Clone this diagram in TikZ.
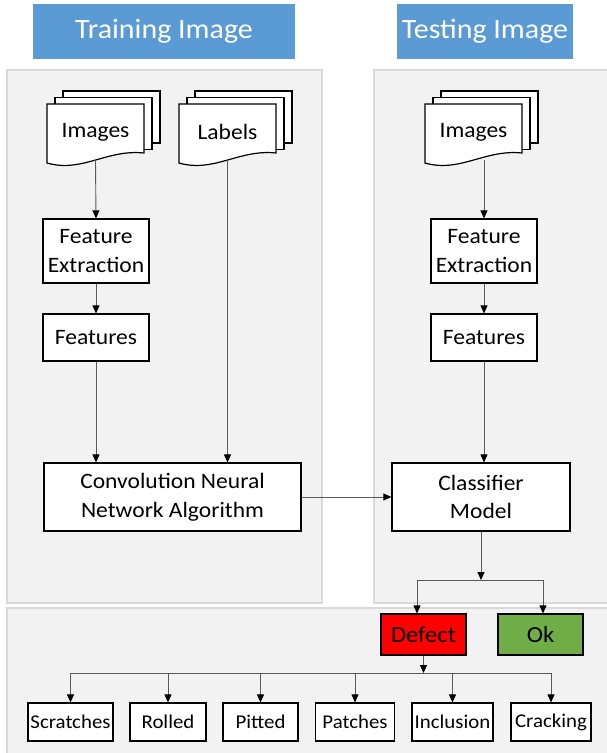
\documentclass[tikz,border=0pt]{standalone}
\usepackage{fontspec}
\setmainfont{Carlito}[FakeStretch=1.07]
\usepackage{tikz}
\usetikzlibrary{arrows.meta}
\definecolor{titleblue}{HTML}{5B9BD5}
\definecolor{panelgray}{HTML}{F2F2F2}
\definecolor{panelline}{HTML}{D9D9D9}
\definecolor{okgreen}{HTML}{70AD47}
\definecolor{defectred}{HTML}{FF0000}
\definecolor{linegray}{HTML}{595959}
\tikzset{
  titlebox/.style={fill=titleblue, text=white, inner sep=0pt, minimum height=55pt,
    font=\fontsize{28}{32}\selectfont},
  panel/.style={fill=panelgray, draw=panelline, line width=1.5pt},
  procbox/.style={draw=black, fill=white, line width=1.2pt, align=center, inner sep=0pt,
    font=\fontsize{22}{28.5}\selectfont},
  classbox/.style={procbox, minimum height=38pt, font=\fontsize{19.5}{22}\selectfont},
  arr/.style={draw=linegray, line width=0.9pt, -{Triangle[length=8pt,width=7pt,color=black]}}
}
\newcommand{\drawdocs}[4]{
  \def \x {#2}
  \def \y {#3}
  % Draw the two pages behind the front one
  \foreach \k in {2,1}
    \draw[line width=1.2pt, fill=white] (\x+8*\k,\y-6.5*\k) rectangle ++(97,52);
  % Draw the front page with its wavy bottom
  \draw[line width=1.2pt, fill=white] (\x,\y) -- (\x+97,\y) -- (\x+97,\y+49)
    .. controls (\x+60,\y+45) and (\x+35,\y+69) .. (\x,\y+59) -- cycle;
  % Label it
  \node[font=\fontsize{22}{26}\selectfont, inner sep=0pt, minimum width=97pt,
    minimum height=56pt] (#1) at (\x+48.5,\y+28) {#4};
}
\begin{document}
\begin{tikzpicture}[x=1pt, y=-1pt]
    \useasboundingbox (0,0) rectangle (607,753);
    % panels
    \draw[panel] (7,70) rectangle (322,603);
    \draw[panel] (374,70) rectangle (612,603);
    \draw[panel] (7,608) rectangle (612,760);
    \node[titlebox, minimum width=262pt] (trainT) at (164,31.5) {Training Image};
    \node[titlebox, minimum width=176pt] (testT) at (485,31.5) {Testing Image};
   %\drawdocs{name}{  x}{  y}{text}
    \drawdocs{imgL}{47}{104}{Images}
    \drawdocs{lab}{179}{104}{Labels}
    \drawdocs{imgR}{425}{104}{Images}
    % training side
    \node[procbox, minimum width=106pt, minimum height=64pt] (feL) at (96,251) {Feature\\Extraction};
    \node[procbox, minimum width=106pt, minimum height=47pt] (ftL) at (96,337.5) {Features};
    \node[procbox, minimum width=257pt, minimum height=68pt] (cnn) at (172.5,497) {Convolution Neural\\Network Algorithm};
    % testing side
    \node[procbox, minimum width=106pt, minimum height=64pt] (feR) at (484,251) {Feature\\Extraction};
    \node[procbox, minimum width=106pt, minimum height=47pt] (ftR) at (484,337.5) {Features};
    \node[procbox, minimum width=178pt, minimum height=68pt] (cls) at (481,497) {Classifier\\Model};
    % result
    \node[procbox, fill=defectred, minimum width=85pt, minimum height=41pt,
      font=\fontsize{23}{26}\selectfont] (defect) at (423.5,634.5) {Defect};
    \node[procbox, fill=okgreen, minimum width=85pt, minimum height=41pt,
      font=\fontsize{23}{26}\selectfont] (ok) at (540.5,634.5) {Ok};
    \foreach \name/\cx/\w/\txt in {scr/70.5/85/Scratches, rol/168/76/Rolled, pit/260.5/75/Pitted,
        pat/355/79.5/Patches, inc/452.5/81/Inclusion, cra/551/80/Cracking}
      \node[classbox, minimum width=\w pt] (\name) at (\cx,722) {\txt};
    % connectors
    \draw[arr] (imgL.south) -- (feL.north);
    \draw[arr] (feL.south) -- (ftL.north);
    \draw[arr] (ftL.south) -- (ftL.south |- cnn.north);
    \draw[arr] (lab.south) -- (lab.south |- cnn.north);
    \draw[arr] (imgR.south -| feR.north) -- (feR.north);
    \draw[arr] (feR.south) -- (ftR.north);
    \draw[arr] (ftR.south) -- (ftR.south |- cls.north);
    \draw[arr] (cnn.east) -- (cls.west);
    \coordinate (split) at (481,580);
    \draw[arr] (cls.south) -- (split);
    \draw[arr] (split) -| ([xshift=-6.5pt]defect.north);
    \draw[arr] (split) -| ([xshift=2.5pt]ok.north);
    \coordinate (bus) at (423.5,673);
    \draw[arr] (defect.south) -- (bus);
    \draw[draw=linegray, line width=0.9pt] (scr.north |- bus) -- (cra.north |- bus);
    \foreach \name in {scr,rol,pit,pat,inc,cra}
      \draw[arr] (\name.north |- bus) -- (\name.north);
\end{tikzpicture}
\end{document}
